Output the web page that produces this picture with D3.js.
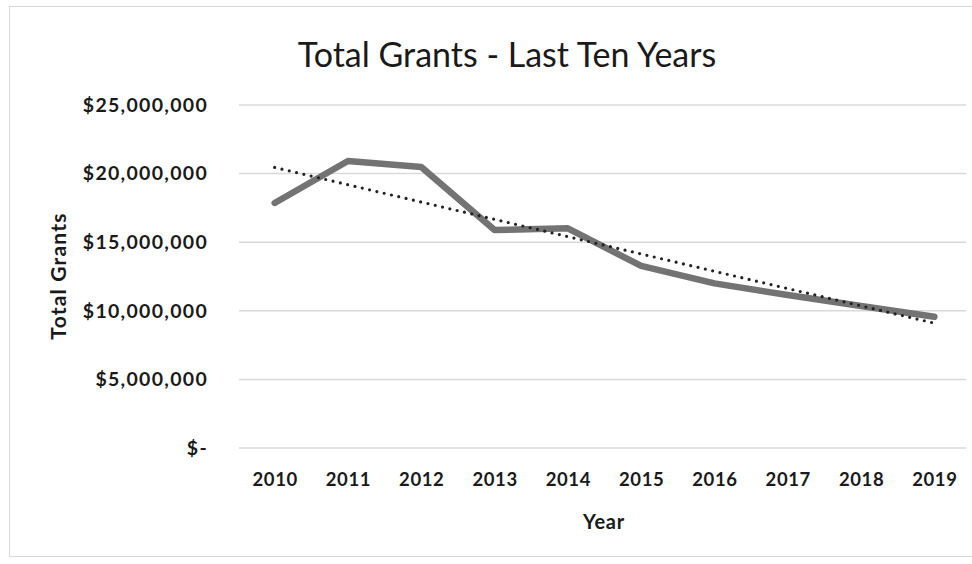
<!DOCTYPE html>
<html>
<head>
<meta charset="utf-8">
<script src="https://cdn.jsdelivr.net/npm/d3@7/dist/d3.min.js"></script>
<style>
  body { margin:0; background:#fff; }
  text { font-family: Lato, "Open Sans", sans-serif; fill:#1a1a1a; }
</style>
</head>
<body>
<div id="chart"></div>
<script>
// Total grants per year
const years = ['2010','2011','2012','2013','2014','2015','2016','2017','2018','2019'];
const grants = [17860000, 20920000, 20480000, 15890000, 16010000, 13270000, 12000000, 11150000, 10350000, 9570000];
// linear trendline end points (first year, last year)
const trendEnds = [20450000, 9100000];
const yTicks = [0, 5000000, 10000000, 15000000, 20000000, 25000000];

(function(){
  const width = 972, height = 564;
  const svg = d3.select('#chart').append('svg')
    .attr('width', width).attr('height', height);

  // outer chart border
  svg.append('rect')
    .attr('x', 9.5).attr('y', 6.5)
    .attr('width', 975).attr('height', 550)
    .attr('fill', 'none').attr('stroke', '#d9d9d9');

  const x = d3.scalePoint().domain(years).range([238, 971]).padding(0.5);
  const y = d3.scaleLinear().domain([0, 25000000]).range([448, 105]);

  const fmt = v => v === 0 ? '$-' : '$' + d3.format(',')(v);

  // gridlines
  svg.append('g')
    .selectAll('line')
    .data(yTicks)
    .enter().append('line')
    .attr('x1', 239).attr('x2', 966)
    .attr('y1', d => y(d)).attr('y2', d => y(d))
    .attr('stroke', '#d9d9d9').attr('stroke-width', 1.5);

  const yAxis = g => g
    .attr('transform', 'translate(239,0)')
    .call(d3.axisLeft(y).tickValues(yTicks).tickFormat(fmt).tickSize(0).tickPadding(31))
    .call(g => g.select('.domain').remove())
    .call(g => g.selectAll('text')
      .style('font-family', 'Lato, "Open Sans", sans-serif')
      .style('font-size', '19.5px').style('font-weight', 'bold')
      .style('letter-spacing', '1.3px').attr('fill', '#1a1a1a'));

  const xAxis = g => g
    .attr('transform', 'translate(0,448)')
    .call(d3.axisBottom(x).tickSize(0).tickPadding(25))
    .call(g => g.select('.domain').remove())
    .call(g => g.selectAll('text')
      .style('font-family', 'Lato, "Open Sans", sans-serif')
      .style('font-size', '18.5px').style('font-weight', 'bold')
      .style('letter-spacing', '0.6px').attr('fill', '#1a1a1a'));

  svg.append('g').call(yAxis);
  svg.append('g').call(xAxis);

  // data line
  const line = d3.line().x((d, i) => x(years[i])).y(d => y(d));
  svg.append('path')
    .datum(grants)
    .attr('d', line)
    .attr('fill', 'none')
    .attr('stroke', '#737373')
    .attr('stroke-width', 6.5)
    .attr('stroke-linejoin', 'round')
    .attr('stroke-linecap', 'round');

  // trendline
  svg.append('path')
    .datum([[years[0], trendEnds[0]], [years[years.length - 1], trendEnds[1]]])
    .attr('d', d3.line().x(d => x(d[0])).y(d => y(d[1])))
    .attr('fill', 'none')
    .attr('stroke', '#222')
    .attr('stroke-width', 3.2)
    .attr('stroke-linecap', 'round')
    .attr('stroke-dasharray', '0 7.5');

  // titles
  svg.append('text')
    .attr('x', 507).attr('y', 67)
    .attr('text-anchor', 'middle')
    .style('font-size', '34px')
    .text('Total Grants - Last Ten Years');

  svg.append('text')
    .attr('x', 604).attr('y', 529)
    .attr('text-anchor', 'middle')
    .style('font-size', '20px').style('font-weight', 'bold')
    .style('letter-spacing', '0.8px')
    .text('Year');

  svg.append('text')
    .attr('transform', 'translate(66,276) rotate(-90)')
    .attr('text-anchor', 'middle')
    .style('font-size', '21px').style('font-weight', 'bold')
    .style('letter-spacing', '1.2px')
    .text('Total Grants');
})();
</script>
</body>
</html>
